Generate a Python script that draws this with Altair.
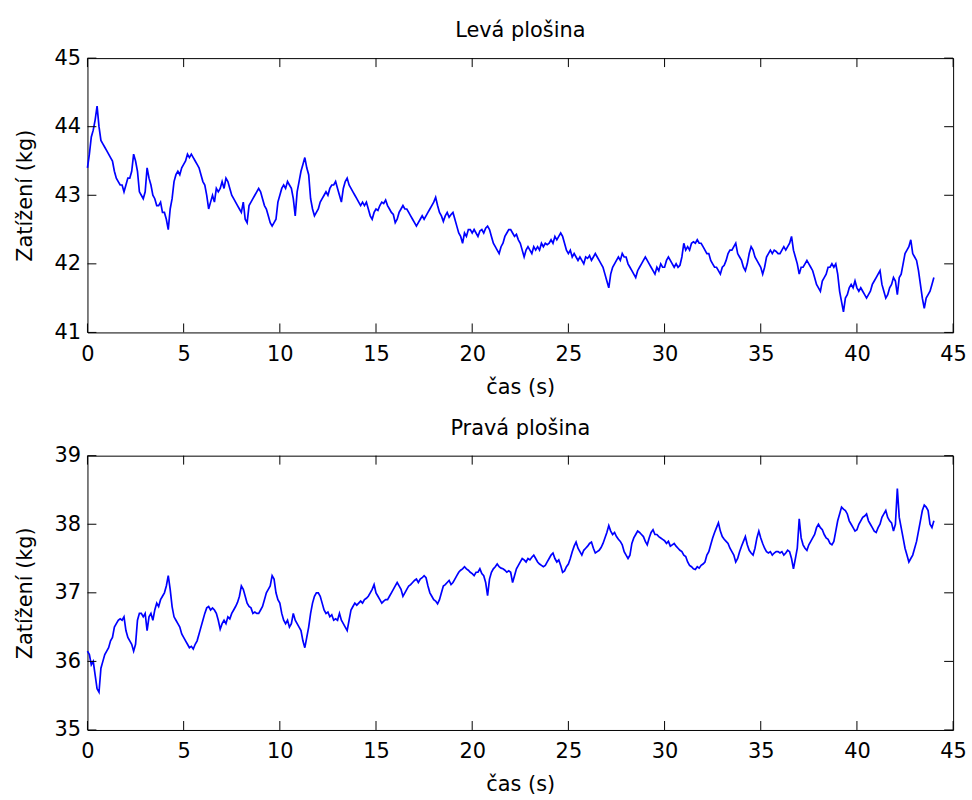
import altair as alt
import pandas as pd

# Left platform load (kg), sampled every 0.1 s from 0.0 s to 44.0 s
levo_kg = [
    43.4, 43.6, 43.85, 43.95, 44.1, 44.3, 44.0, 43.8, 43.75, 43.7,
    43.65, 43.6, 43.55, 43.5, 43.35, 43.25, 43.2, 43.15, 43.15, 43.05,
    43.15, 43.25, 43.25, 43.35, 43.6, 43.5, 43.35, 43.05, 43.0, 42.95,
    43.05, 43.4, 43.25, 43.15, 43.0, 42.95, 42.85, 42.85, 42.9, 42.75,
    42.75, 42.65, 42.5, 42.8, 42.95, 43.2, 43.3, 43.35, 43.3, 43.4,
    43.45, 43.5, 43.6, 43.55, 43.6, 43.55, 43.5, 43.45, 43.4, 43.3,
    43.2, 43.15, 43.0, 42.8, 42.9, 43.0, 42.9, 43.1, 43.05, 43.1,
    43.2, 43.1, 43.25, 43.2, 43.1, 43.0, 42.95, 42.9, 42.85, 42.8,
    42.75, 42.9, 42.65, 42.6, 42.85, 42.9, 42.95, 43.0, 43.05, 43.1,
    43.05, 42.95, 42.85, 42.8, 42.7, 42.6, 42.55, 42.6, 42.65, 42.9,
    43.0, 43.1, 43.15, 43.1, 43.2, 43.15, 43.1, 42.95, 42.7, 43.05,
    43.2, 43.35, 43.45, 43.55, 43.4, 43.3, 42.95, 42.8, 42.7, 42.75,
    42.8, 42.9, 42.95, 43.0, 43.05, 43.0, 43.1, 43.15, 43.15, 43.2,
    43.1, 43.0, 42.9, 43.1, 43.2, 43.25, 43.15, 43.1, 43.05, 43.0,
    42.95, 42.9, 42.85, 42.9, 42.85, 42.9, 42.8, 42.7, 42.65, 42.75,
    42.8, 42.78, 42.85, 42.9, 42.88, 42.93, 42.85, 42.8, 42.75, 42.72,
    42.6, 42.65, 42.75, 42.8, 42.85, 42.8, 42.8, 42.75, 42.7, 42.65,
    42.6, 42.55, 42.6, 42.65, 42.7, 42.65, 42.7, 42.75, 42.8, 42.85,
    42.9, 42.97, 42.85, 42.75, 42.7, 42.62, 42.7, 42.75, 42.68, 42.72,
    42.75, 42.65, 42.55, 42.45, 42.4, 42.3, 42.45, 42.4, 42.5, 42.5,
    42.45, 42.5, 42.45, 42.4, 42.48, 42.5, 42.45, 42.52, 42.55, 42.5,
    42.4, 42.3, 42.25, 42.2, 42.15, 42.25, 42.3, 42.4, 42.45, 42.5,
    42.5, 42.45, 42.4, 42.43, 42.35, 42.3, 42.2, 42.1, 42.2, 42.25,
    42.2, 42.15, 42.25, 42.2, 42.25, 42.2, 42.3, 42.25, 42.3, 42.28,
    42.3, 42.35, 42.3, 42.4, 42.35, 42.4, 42.45, 42.4, 42.3, 42.2,
    42.15, 42.2, 42.1, 42.15, 42.1, 42.05, 42.1, 42.05, 42.0, 42.1,
    42.08, 42.12, 42.05, 42.1, 42.15, 42.1, 42.05, 42.0, 41.95, 41.85,
    41.75, 41.65, 41.85, 41.95, 42.0, 42.05, 42.1, 42.05, 42.15, 42.1,
    42.1, 42.0, 41.95, 41.9, 41.85, 41.8, 41.9, 41.95, 42.0, 42.05,
    42.1, 42.05, 42.0, 41.95, 41.9, 41.85, 41.95, 41.9, 42.0, 41.95,
    41.95, 42.05, 42.1, 42.05, 42.0, 41.95, 42.0, 41.95, 41.98, 42.1,
    42.3, 42.2, 42.25, 42.2, 42.3, 42.32, 42.3, 42.35, 42.3, 42.3,
    42.25, 42.2, 42.15, 42.15, 42.05, 42.0, 41.95, 41.95, 41.9, 41.85,
    41.95, 41.98, 42.05, 42.15, 42.2, 42.2, 42.25, 42.3, 42.15, 42.1,
    42.05, 41.95, 41.9, 42.0, 42.15, 42.25, 42.2, 42.1, 42.05, 42.0,
    41.95, 41.85, 41.95, 42.1, 42.15, 42.2, 42.15, 42.2, 42.18, 42.15,
    42.15, 42.2, 42.25, 42.2, 42.25, 42.3, 42.4, 42.2, 42.1, 42.0,
    41.85, 41.95, 41.95, 42.0, 42.05, 42.0, 41.95, 41.9, 41.8, 41.7,
    41.65, 41.6, 41.75, 41.8, 41.85, 41.95, 41.95, 42.0, 41.95, 42.0,
    41.85, 41.6, 41.45, 41.3, 41.5, 41.55, 41.65, 41.7, 41.65, 41.75,
    41.65, 41.6, 41.65, 41.6, 41.55, 41.5, 41.55, 41.6, 41.7, 41.75,
    41.8, 41.85, 41.9, 41.7, 41.6, 41.5, 41.55, 41.65, 41.7, 41.8,
    41.75, 41.55, 41.8, 41.85, 42.0, 42.15, 42.2, 42.25, 42.35, 42.15,
    42.1, 42.05, 41.9, 41.7, 41.5, 41.35, 41.5, 41.55, 41.6, 41.7,
    41.8,
]

# Right platform load (kg), same sampling
pravo_kg = [
    36.15, 36.1, 35.95, 36.0, 35.8, 35.6, 35.55, 35.9, 36.0, 36.1,
    36.15, 36.2, 36.3, 36.35, 36.5, 36.55, 36.6, 36.62, 36.6, 36.65,
    36.45, 36.35, 36.3, 36.25, 36.15, 36.25, 36.6, 36.7, 36.7, 36.65,
    36.7, 36.45, 36.65, 36.7, 36.6, 36.75, 36.85, 36.8, 36.9, 36.95,
    37.0, 37.1, 37.25, 37.05, 36.8, 36.65, 36.6, 36.55, 36.5, 36.4,
    36.35, 36.3, 36.25, 36.2, 36.22, 36.18, 36.25, 36.3, 36.4, 36.5,
    36.6, 36.7, 36.78, 36.8, 36.75, 36.78, 36.75, 36.7, 36.6, 36.47,
    36.55, 36.6, 36.55, 36.65, 36.62, 36.7, 36.75, 36.8, 36.86, 36.95,
    37.1, 37.05, 36.95, 36.85, 36.8, 36.78, 36.7, 36.72, 36.7, 36.7,
    36.75, 36.8, 36.9, 37.0, 37.05, 37.1, 37.25, 37.2, 37.0, 36.9,
    36.85, 36.7, 36.6, 36.55, 36.6, 36.5, 36.55, 36.7, 36.6, 36.55,
    36.5, 36.45, 36.3, 36.2, 36.35, 36.5, 36.7, 36.85, 36.95, 37.0,
    37.0, 36.95, 36.85, 36.75, 36.7, 36.72, 36.65, 36.68, 36.6, 36.62,
    36.6, 36.7, 36.6, 36.55, 36.5, 36.45, 36.6, 36.75, 36.8, 36.85,
    36.82, 36.85, 36.88, 36.85, 36.9, 36.92, 36.95, 37.0, 37.05, 37.12,
    37.0, 36.95, 36.9, 36.85, 36.88, 36.9, 36.9, 36.95, 37.0, 37.05,
    37.1, 37.15, 37.1, 37.05, 36.95, 37.0, 37.05, 37.1, 37.12, 37.15,
    37.18, 37.2, 37.15, 37.2, 37.22, 37.25, 37.22, 37.1, 37.0, 36.95,
    36.9, 36.88, 36.84, 36.9, 37.0, 37.1, 37.12, 37.15, 37.18, 37.12,
    37.15, 37.2, 37.25, 37.3, 37.33, 37.35, 37.38, 37.35, 37.33, 37.3,
    37.28, 37.25, 37.3, 37.3, 37.35, 37.28, 37.25, 37.15, 36.96, 37.2,
    37.3, 37.35, 37.38, 37.42, 37.38, 37.36, 37.35, 37.33, 37.3, 37.32,
    37.3, 37.15, 37.25, 37.35, 37.4, 37.45, 37.5, 37.48, 37.45, 37.5,
    37.48, 37.52, 37.55, 37.5, 37.45, 37.42, 37.4, 37.38, 37.4, 37.45,
    37.5, 37.55, 37.58, 37.5, 37.45, 37.48, 37.4, 37.3, 37.32, 37.38,
    37.42, 37.5, 37.6, 37.68, 37.74, 37.65, 37.6, 37.55, 37.62, 37.65,
    37.68, 37.72, 37.74, 37.65, 37.58, 37.6, 37.62, 37.66, 37.72, 37.8,
    37.88, 37.98, 37.9, 37.85, 37.88, 37.82, 37.78, 37.75, 37.7, 37.6,
    37.55, 37.5, 37.55, 37.72, 37.8, 37.85, 37.9, 37.88, 37.85, 37.82,
    37.75, 37.7, 37.8, 37.88, 37.92, 37.85, 37.85, 37.82, 37.8, 37.78,
    37.76, 37.72, 37.75, 37.68, 37.7, 37.72, 37.68, 37.65, 37.62, 37.6,
    37.55, 37.53, 37.45, 37.4, 37.38, 37.35, 37.34, 37.38, 37.36, 37.4,
    37.42, 37.45, 37.55, 37.6, 37.7, 37.8, 37.88, 37.95, 38.02, 37.9,
    37.82, 37.78, 37.75, 37.72, 37.65, 37.6, 37.55, 37.45, 37.5, 37.6,
    37.68, 37.75, 37.82, 37.7, 37.62, 37.58, 37.55, 37.65, 37.8, 37.9,
    37.8, 37.72, 37.65, 37.6, 37.58, 37.6, 37.55, 37.58, 37.6, 37.6,
    37.58, 37.6, 37.55, 37.58, 37.62, 37.6, 37.5, 37.35, 37.5, 37.65,
    38.08, 37.8, 37.7, 37.65, 37.62, 37.7, 37.75, 37.8, 37.85, 37.95,
    38.0, 37.95, 37.92, 37.85, 37.8, 37.78, 37.72, 37.7, 37.75, 37.9,
    38.05, 38.15, 38.25, 38.22, 38.2, 38.15, 38.05, 38.0, 37.95, 37.9,
    37.92, 38.0, 38.05, 38.1, 38.12, 38.15, 38.05, 38.0, 37.95, 37.9,
    37.88, 37.95, 38.0, 38.1, 38.15, 38.2, 38.1, 38.05, 38.02, 37.9,
    38.0, 38.52, 38.1, 37.95, 37.8, 37.65, 37.55, 37.45, 37.5, 37.55,
    37.65, 37.75, 37.9, 38.05, 38.2, 38.28, 38.25, 38.2, 38.0, 37.95,
    38.05,
]

cas_s = [round(i * 0.1, 1) for i in range(len(levo_kg))]

x_ticks = [0, 5, 10, 15, 20, 25, 30, 35, 40, 45]
x_domain = [0, 45]
top_ticks = [41, 42, 43, 44, 45]
top_domain = [41, 45]
bottom_ticks = [35, 36, 37, 38, 39]
bottom_domain = [35, 39]

W = 871
H = 276
TICK = 9
FONT = "DejaVu Sans"
FS = 21


def panel(values, title, ydom, yticks):
    df = pd.DataFrame({"cas": cas_s, "kg": values})
    xt = pd.DataFrame({"t": x_ticks})
    yt = pd.DataFrame({"v": yticks})
    xs = alt.Scale(domain=x_domain, nice=False, zero=False)
    ys = alt.Scale(domain=ydom, nice=False, zero=False)

    main = alt.Chart(df).mark_line(color="#0000ff", strokeWidth=1.7).encode(
        x=alt.X("cas:Q", scale=xs, axis=alt.Axis(
            values=x_ticks, title="čas (s)", ticks=False, domain=False,
            grid=False, labelPadding=11, titlePadding=12, format="d",
            labelFlush=False)),
        y=alt.Y("kg:Q", scale=ys, axis=alt.Axis(
            values=yticks, title="Zatížení (kg)", ticks=False, domain=False,
            grid=False, labelPadding=7, titlePadding=19, format="d",
            labelFlush=False)),
    )
    # inward tick marks on all four sides, placed through the scales
    tick_top = alt.Chart(xt).mark_rule(color="black", strokeWidth=1).encode(
        x=alt.X("t:Q", scale=xs), y=alt.value(0), y2=alt.value(TICK))
    tick_bottom = alt.Chart(xt).mark_rule(color="black", strokeWidth=1).encode(
        x=alt.X("t:Q", scale=xs), y=alt.value(H - TICK), y2=alt.value(H))
    tick_left = alt.Chart(yt).mark_rule(color="black", strokeWidth=1).encode(
        y=alt.Y("v:Q", scale=ys), x=alt.value(0), x2=alt.value(TICK))
    tick_right = alt.Chart(yt).mark_rule(color="black", strokeWidth=1).encode(
        y=alt.Y("v:Q", scale=ys), x=alt.value(W - TICK), x2=alt.value(W))

    return alt.layer(main, tick_top, tick_bottom, tick_left, tick_right).properties(
        width=W, height=H,
        title=alt.TitleParams(title, offset=6),
    )


top = panel(levo_kg, "Levá plošina", top_domain, top_ticks)
bottom = panel(pravo_kg, "Pravá plošina", bottom_domain, bottom_ticks)

chart = alt.vconcat(top, bottom, spacing=124, bounds="flush").properties(
    padding={"left": 13, "top": 17, "right": 5, "bottom": 5},
    background="white",
).configure_axis(
    labelFont=FONT, labelFontSize=FS, labelColor="black",
    titleFont=FONT, titleFontSize=FS, titleColor="black",
    titleFontWeight="normal",
).configure_title(
    font=FONT, fontSize=FS, fontWeight="normal", color="black",
).configure_view(
    stroke="black", strokeWidth=1,
)

chart.save("out.html", embed_options={"renderer": "svg", "actions": False})
